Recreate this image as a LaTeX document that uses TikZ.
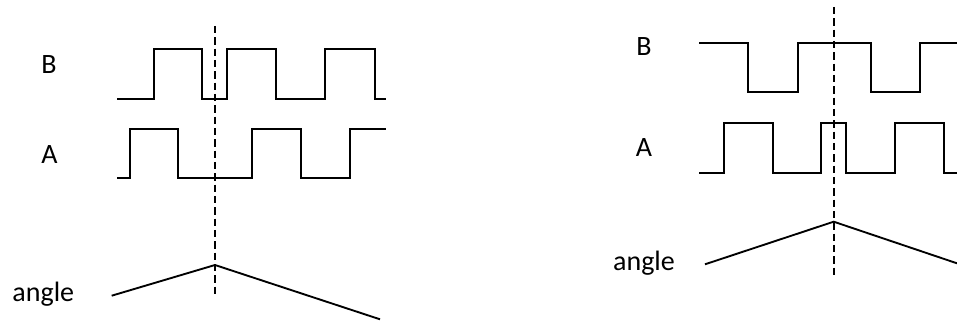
\documentclass[tikz,border=0pt]{standalone}
\usepackage{fontspec}
\setmainfont{Carlito}
\begin{document}
\begin{tikzpicture}[x=0.75pt,y=-0.75pt,
  sig/.style={line width=1.5pt, black},
  ang/.style={line width=1.4pt, black},
  marker/.style={line width=1.2pt, black, dash pattern=on 5.5pt off 3pt},
  lbl/.style={font=\fontsize{21}{24}\selectfont, anchor=base, inner sep=0pt}]
\useasboundingbox (0,0) rectangle (957,324);
% labels
\node[lbl] (lB) at (49,74) {B};
\node[lbl] (lA) at (49.5,163.3) {A};
\node[lbl] (lang) at (43.3,301.7) {angle};
\node[lbl] (rB) at (644,56) {B};
\node[lbl] (rA) at (644,156.7) {A};
\node[lbl] (rang) at (644,270) {angle};
% left signals
\draw[sig] (117,99) -- (154,99) -- (154,49.3) -- (202.3,49.3) -- (202.3,99) -- (227.3,99) -- (227.3,49.3) -- (276,49.3) -- (276,99) -- (325,99) -- (325,49.3) -- (375,49.3) -- (375,99) -- (386,99);
\draw[sig] (117,178.3) -- (130,178.3) -- (130,129.3) -- (178.3,129.3) -- (178.3,178.3) -- (251.7,178.3) -- (251.7,129.3) -- (301,129.3) -- (301,178.3) -- (350,178.3) -- (350,129.3) -- (386,129.3);
% left angle
\coordinate (la0) at (111.7,295.7);
\coordinate (lpk) at (215,265);
\coordinate (la1) at (380,319.3);
\draw[ang] (la0) -- (lpk) -- (la1);
\coordinate (ldt) at (215,26);
\coordinate (ldb) at (215,295);
\draw[marker] (ldt) -- (ldb);
% right signals
\draw[sig] (699.3,43.3) -- (747.7,43.3) -- (747.7,92.3) -- (798,92.3) -- (798,43.3) -- (870.7,43.3) -- (870.7,92.3) -- (920,92.3) -- (920,43.3) -- (957,43.3);
\draw[sig] (699.3,173) -- (724.3,173) -- (724.3,123.3) -- (772.7,123.3) -- (772.7,173) -- (821.3,173) -- (821.3,123.3) -- (846,123.3) -- (846,173) -- (895,173) -- (895,123.3) -- (944.3,123.3) -- (944.3,173) -- (957,173);
% right angle
\coordinate (ra0) at (705,264.3);
\coordinate (rpk) at (833.7,221.7);
\coordinate (ra1) at (957,263.3);
\draw[ang] (ra0) -- (rpk) -- (ra1);
\coordinate (rdt) at (833.7,7);
\coordinate (rdb) at (833.7,277.3);
\draw[marker] (rdt) -- (rdb);
\end{tikzpicture}
\end{document}
